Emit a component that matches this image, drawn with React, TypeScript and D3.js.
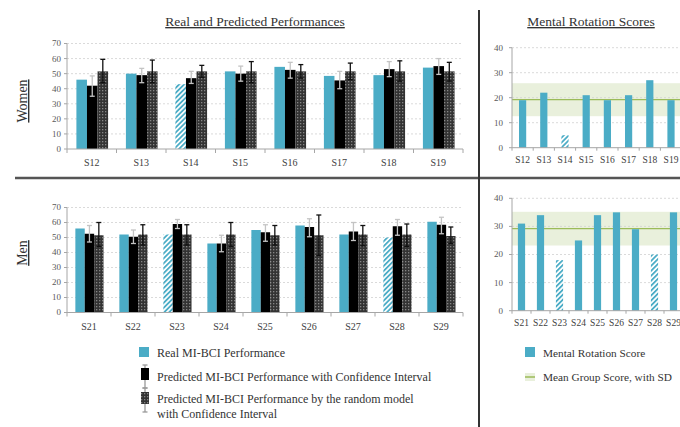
import React from "react";
import * as d3 from "d3";

const womenSubjects = ["S12", "S13", "S14", "S15", "S16", "S17", "S18", "S19"];
const womenReal = [46, 50, 43, 51.5, 54.5, 48.5, 49, 54];
const womenPred = [42, 49, 47, 50, 52.5, 45.5, 53, 55];
const womenPredLow = [35, 44, 43.5, 45, 47, 40, 48, 49.5];
const womenPredHigh = [48.5, 53.5, 51.5, 55, 57.5, 51.5, 58, 60];
const womenRand = [51.5, 51.5, 51.5, 51.5, 51.5, 51.5, 51.5, 51.5];
const womenRandLow = [44, 44, 47.5, 44, 47, 46, 45, 45];
const womenRandHigh = [59.5, 59, 55.5, 58, 56, 57, 58.5, 57.5];
const womenRotation = [19, 22, 5, 21, 19, 21, 27, 19];
const womenRotationMean = 19.2;
const womenRotationSD = 6.6;
const womenHatched = ["S14"];

const menSubjects = ["S21", "S22", "S23", "S24", "S25", "S26", "S27", "S28", "S29"];
const menReal = [56, 52, 52, 46, 55, 58, 52, 50, 60.5];
const menPred = [52.5, 50.5, 59, 46, 53.5, 57, 54, 57.5, 58.5];
const menPredLow = [47, 46, 56, 40.5, 47.5, 50.5, 48, 51.5, 52.5];
const menPredHigh = [58, 55, 62, 51.5, 58.5, 62.5, 60, 62, 63.5];
const menRand = [51.5, 52, 52, 52, 51.5, 51.5, 52, 52, 51];
const menRandLow = [44, 45, 45, 44, 45, 38, 44.5, 44, 46];
const menRandHigh = [60, 58.5, 58.5, 60, 58, 65, 58, 59, 57];
const menRotation = [31, 34, 18, 25, 34, 35, 29, 20, 35];
const menRotationMean = 29.2;
const menRotationSD = 6;
const menHatched = ["S23", "S28"];

const perfTicks = [0, 10, 20, 30, 40, 50, 60, 70];
const rotTicks = [0, 10, 20, 30, 40];

const BLUE = "#4BACC6";
const GREEN = "#9BBB59";
const SERIF = "Liberation Serif, serif";
const TICK_COLOR = "#595959";

function ErrorBar({ x, y1, y2, color, cap }: any) {
  return (
    <g stroke={color} strokeWidth={1.3}>
      <line x1={x} x2={x} y1={y1} y2={y2} />
      <line x1={x - cap} x2={x + cap} y1={y1} y2={y1} />
      <line x1={x - cap} x2={x + cap} y1={y2} y2={y2} />
    </g>
  );
}

function PerfChart(props: any) {
  const { subjects, real, pred, predLow, predHigh, rand, randLow, randHigh, hatched, yBottom, yTop } = props;
  const x = d3.scaleBand().domain(subjects).range([67, 463]);
  const y = d3.scaleLinear().domain([0, 70]).range([yBottom, yTop]);
  const inner = d3
    .scaleBand()
    .domain(["real", "pred", "rand"])
    .range([x.bandwidth() * 0.19, x.bandwidth() * 0.83]);
  const bw = inner.bandwidth();
  const bounds = subjects.map((s: string) => x(s)!).concat([x.range()[1]]);
  return (
    <g>
      {perfTicks.slice(1).map((t) => (
        <line key={t} x1={67} x2={463} y1={y(t)} y2={y(t)} stroke="#d0d0d0" strokeWidth={0.8} strokeDasharray="2,2" />
      ))}
      {subjects.map((s: string, i: number) => {
        const gx = x(s)!;
        const rx = gx + inner("real")!;
        const px = gx + inner("pred")!;
        const qx = gx + inner("rand")!;
        return (
          <g key={s}>
            <rect x={rx} y={y(real[i])} width={bw} height={y(0) - y(real[i])}
              fill={hatched.includes(s) ? "url(#hatch)" : BLUE} />
            <rect x={px} y={y(pred[i])} width={bw} height={y(0) - y(pred[i])} fill="#000" />
            <rect x={qx} y={y(rand[i])} width={bw} height={y(0) - y(rand[i])} fill="url(#checker)" />
            <ErrorBar x={px + bw / 2} y1={y(predHigh[i])} y2={y(predLow[i])} color="#c4c4c4" cap={2.5} />
            <ErrorBar x={qx + bw / 2} y1={y(randHigh[i])} y2={y(randLow[i])} color="#111" cap={2.5} />
          </g>
        );
      })}
      <line x1={67} x2={463} y1={y(0)} y2={y(0)} stroke="#a6a6a6" strokeWidth={1} />
      <line x1={67} x2={67} y1={y(0)} y2={y(70)} stroke="#a6a6a6" strokeWidth={1} />
      {perfTicks.map((t) => (
        <g key={t}>
          <line x1={64} x2={67} y1={y(t)} y2={y(t)} stroke="#a6a6a6" />
          <text x={61} y={y(t)} dy="0.33em" textAnchor="end" fontSize={9} fill={TICK_COLOR} style={{ fontFamily: SERIF }}>{t}</text>
        </g>
      ))}
      {bounds.map((b: number, i: number) => (
        <line key={i} x1={b} x2={b} y1={y(0)} y2={y(0) + 4} stroke="#a6a6a6" />
      ))}
      {subjects.map((s: string) => (
        <text key={s} x={x(s)! + x.bandwidth() / 2} y={y(0) + 17} textAnchor="middle" fontSize={10} fill="#404040" style={{ fontFamily: SERIF }}>{s}</text>
      ))}
    </g>
  );
}

function RotChart(props: any) {
  const { subjects, values, mean, sd, hatched, yBottom, yTop, bandW } = props;
  const x = d3.scaleBand().domain(subjects).range([512, 512 + bandW * subjects.length]);
  const y = d3.scaleLinear().domain([0, 40]).range([yBottom, yTop]);
  const bw = 7.2;
  const bounds = subjects.map((s: string) => x(s)!).concat([x.range()[1]]);
  return (
    <g>
      <rect x={512} y={y(mean + sd)} width={x.range()[1] - 512} height={y(mean - sd) - y(mean + sd)} fill="#e9f0dc" />
      {rotTicks.slice(1).map((t) => (
        <line key={t} x1={512} x2={x.range()[1]} y1={y(t)} y2={y(t)} stroke="#d0d0d0" strokeWidth={0.8} strokeDasharray="2,2" />
      ))}
      <line x1={512} x2={x.range()[1]} y1={y(mean)} y2={y(mean)} stroke={GREEN} strokeWidth={1.3} />
      {subjects.map((s: string, i: number) => (
        <rect key={s} x={x(s)! + x.bandwidth() / 2 - bw / 2} y={y(values[i])} width={bw} height={y(0) - y(values[i])}
          fill={hatched.includes(s) ? "url(#hatch)" : BLUE} />
      ))}
      <line x1={512} x2={x.range()[1]} y1={y(0)} y2={y(0)} stroke="#a6a6a6" />
      <line x1={512} x2={512} y1={y(0)} y2={y(40)} stroke="#a6a6a6" />
      {rotTicks.map((t) => (
        <g key={t}>
          <line x1={509} x2={512} y1={y(t)} y2={y(t)} stroke="#a6a6a6" />
          <text x={503} y={y(t)} dy="0.33em" textAnchor="end" fontSize={9} fill={TICK_COLOR} style={{ fontFamily: SERIF }}>{t}</text>
        </g>
      ))}
      {bounds.map((b: number, i: number) => (
        <line key={i} x1={b} x2={b} y1={y(0)} y2={y(0) + 3} stroke="#a6a6a6" />
      ))}
      {subjects.map((s: string) => (
        <text key={s} x={x(s)! + x.bandwidth() / 2} y={y(0) + 15} textAnchor="middle" fontSize={9.5} fill="#404040" style={{ fontFamily: SERIF }}>{s}</text>
      ))}
    </g>
  );
}

export default function App() {
  const txt = { fontFamily: SERIF };
  return (
    <svg width={680} height={427} style={{ position: "absolute", left: 0, top: 0, background: "#fff" }}>
      <defs>
        <pattern id="hatch" patternUnits="userSpaceOnUse" width={3.5} height={3.5} patternTransform="rotate(45)">
          <rect width={3.5} height={3.5} fill="#fff" />
          <rect width={1.8} height={3.5} fill={BLUE} />
        </pattern>
        <pattern id="checker" patternUnits="userSpaceOnUse" width={3} height={3}>
          <rect width={3} height={3} fill="#333" />
          <rect width={1.3} height={1.3} fill="#858585" />
        </pattern>
      </defs>

      <text x={255} y={26} textAnchor="middle" fontSize={13.5} fill="#333" style={txt} textDecoration="underline">Real and Predicted Performances</text>
      <text x={591} y={26} textAnchor="middle" fontSize={13.5} fill="#333" style={txt} textDecoration="underline">Mental Rotation Scores</text>

      <text transform="translate(27,101) rotate(-90)" textAnchor="middle" fontSize={14} fill="#333" style={txt} textDecoration="underline">Women</text>
      <text transform="translate(27,253) rotate(-90)" textAnchor="middle" fontSize={14} fill="#333" style={txt} textDecoration="underline">Men</text>

      <PerfChart subjects={womenSubjects} real={womenReal} pred={womenPred} predLow={womenPredLow} predHigh={womenPredHigh}
        rand={womenRand} randLow={womenRandLow} randHigh={womenRandHigh} hatched={womenHatched} yBottom={149} yTop={43.5} />
      <PerfChart subjects={menSubjects} real={menReal} pred={menPred} predLow={menPredLow} predHigh={menPredHigh}
        rand={menRand} randLow={menRandLow} randHigh={menRandHigh} hatched={menHatched} yBottom={312.5} yTop={207.5} />

      <RotChart subjects={womenSubjects} values={womenRotation} mean={womenRotationMean} sd={womenRotationSD}
        hatched={womenHatched} yBottom={147.7} yTop={47.7} bandW={21.2} />
      <RotChart subjects={menSubjects} values={menRotation} mean={menRotationMean} sd={menRotationSD}
        hatched={menHatched} yBottom={310.7} yTop={198.3} bandW={19.0} />

      <line x1={15} x2={680} y1={178} y2={178} stroke="#555" strokeWidth={2.5} />
      <line x1={479} x2={479} y1={10} y2={427} stroke="#333" strokeWidth={2} />

      {/* left legend */}
      <rect x={139} y={347} width={10} height={10} fill={BLUE} />
      <text x={157} y={357} fontSize={12} fill="#333" style={txt}>Real MI-BCI Performance</text>
      <ErrorBar x={145} y1={365} y2={388} color="#999" cap={2.5} />
      <rect x={141} y={368} width={8} height={12} fill="#000" />
      <text x={157} y={381} fontSize={12} fill="#333" style={txt}>Predicted MI-BCI Performance with Confidence Interval</text>
      <ErrorBar x={145} y1={388} y2={412} color="#999" cap={2.5} />
      <rect x={141} y={392} width={8} height={12} fill="url(#checker)" />
      <text x={157} y={403} fontSize={12} fill="#333" style={txt}>Predicted MI-BCI Performance by the random model</text>
      <text x={157} y={418} fontSize={12} fill="#333" style={txt}>with Confidence Interval</text>

      {/* right legend */}
      <rect x={525} y={347} width={10} height={10} fill={BLUE} />
      <text x={543} y={357} fontSize={11.3} fill="#333" style={txt}>Mental Rotation Score</text>
      <rect x={525} y={373} width={10} height={8} fill="#e9f0dc" />
      <line x1={525} x2={535} y1={377} y2={377} stroke={GREEN} strokeWidth={1.5} />
      <text x={543} y={381} fontSize={11.3} fill="#333" style={txt}>Mean Group Score, with SD</text>
    </svg>
  );
}
